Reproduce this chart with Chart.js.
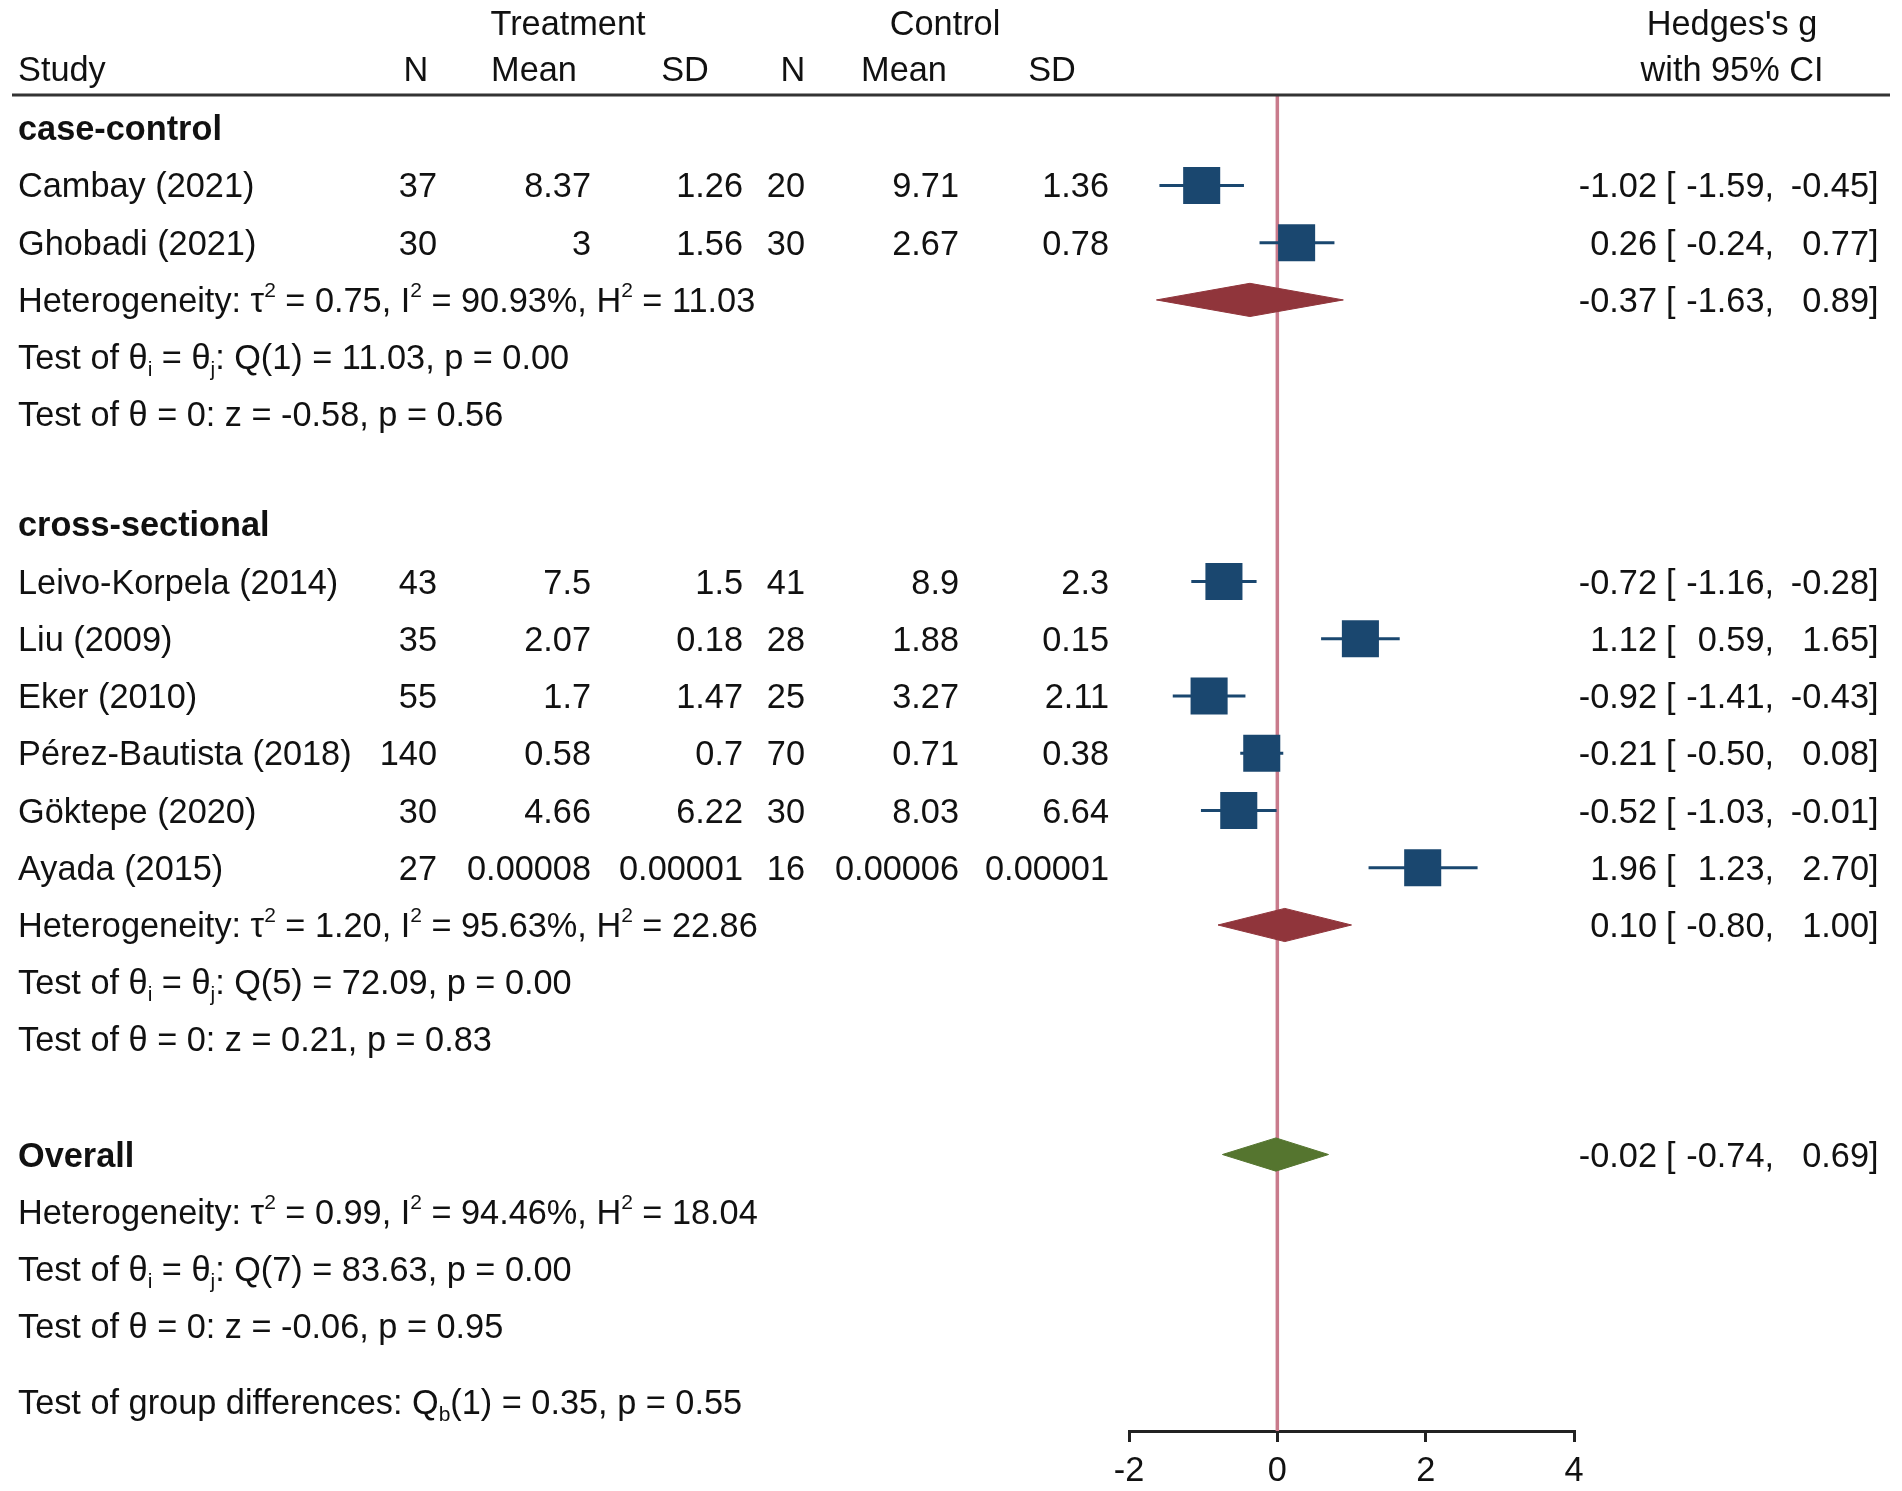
<!DOCTYPE html>
<html>
<head>
<meta charset="utf-8">
<script src="https://cdn.jsdelivr.net/npm/chart.js@4.4.1/dist/chart.umd.min.js"></script>
<style>
html, body { margin: 0; padding: 0; background: #fff; }
canvas { display: block; }
</style>
</head>
<body>
<canvas id="forest" width="1902" height="1491"></canvas>
<script>
// ---- data ----
const groups = ['case-control', 'cross-sectional'];
const studies = ['Cambay (2021)', 'Ghobadi (2021)', 'Leivo-Korpela (2014)', 'Liu (2009)',
                 'Eker (2010)', 'Pérez-Bautista (2018)', 'Göktepe (2020)', 'Ayada (2015)'];
const studyGroup = [0, 0, 1, 1, 1, 1, 1, 1];

const trtN    = [37, 30, 43, 35, 55, 140, 30, 27];
const trtMean = [8.37, 3, 7.5, 2.07, 1.7, 0.58, 4.66, 0.00008];
const trtSD   = [1.26, 1.56, 1.5, 0.18, 1.47, 0.7, 6.22, 0.00001];
const ctlN    = [20, 30, 41, 28, 25, 70, 30, 16];
const ctlMean = [9.71, 2.67, 8.9, 1.88, 3.27, 0.71, 8.03, 0.00006];
const ctlSD   = [1.36, 0.78, 2.3, 0.15, 2.11, 0.38, 6.64, 0.00001];

const g    = [-1.02, 0.26, -0.72, 1.12, -0.92, -0.21, -0.52, 1.96];
const ciLo = [-1.59, -0.24, -1.16, 0.59, -1.41, -0.50, -1.03, 1.23];
const ciHi = [-0.45, 0.77, -0.28, 1.65, -0.43, 0.08, -0.01, 2.70];

// subgroup summaries, then overall as the last entry
const sumG  = [-0.37, 0.10, -0.02];
const sumLo = [-1.63, -0.80, -0.74];
const sumHi = [0.89, 1.00, 0.69];
const tau2  = [0.75, 1.20, 0.99];
const iSq   = [90.93, 95.63, 94.46];
const hSq   = [11.03, 22.86, 18.04];
const qDf   = [1, 5, 7];
const qVal  = [11.03, 72.09, 83.63];
const qP    = [0.00, 0.00, 0.00];
const zVal  = [-0.58, 0.21, -0.06];
const zP    = [0.56, 0.83, 0.95];
const qbDf = 1, qbVal = 0.35, qbP = 0.55;

const xTicks = [-2, 0, 2, 4];

// ---- layout ----
const NAVY = '#1a476f', MAROON = '#90353b', GREEN = '#55752f', REFLINE = '#c97b8c';
const FONT = '"Liberation Sans", Arial, sans-serif';
const NORMAL = '34.3px ' + FONT, BOLD = 'bold 34.3px ' + FONT, SMALL = '21px ' + FONT;
const COL = { study: 18, trN: 437, trMean: 591, trSD: 743, ctN: 805, ctMean: 959, ctSD: 1109,
              est: 1657, br: 1666, lo: 1774, hi: 1869 };
const HEAD = { trN: 416, trMean: 534, trSD: 685, ctN: 793, ctMean: 904, ctSD: 1052,
               trt: 568, ctl: 945, eff: 1732 };
const GAP_GROUP = 1.92, GAP_OVERALL = 2.01, GAP_NOTE = 1.32, DIAMOND_H = 0.29;

// row positions (one unit = one text line)
const rowGroup = [], rowStudy = [], rowSum = [];
let r = 0;
groups.forEach((name, gi) => {
  rowGroup[gi] = r; r++;
  studies.forEach((s, i) => { if (studyGroup[i] === gi) { rowStudy[i] = r; r++; } });
  rowSum[gi] = r;
  r += 2 + (gi < groups.length - 1 ? GAP_GROUP : GAP_OVERALL);
});
rowSum.push(r);              // Overall heading carries the overall diamond
const rowDiff = r + 3 + GAP_NOTE;

const fmt = v => v.toFixed(2);

// ---- datasets ----
const whiskers = studies.map((s, i) => ({
  type: 'line',
  data: [{ x: ciLo[i], y: rowStudy[i] }, { x: ciHi[i], y: rowStudy[i] }],
  borderColor: NAVY, borderWidth: 3, pointRadius: 0, order: 3
}));

const squares = {
  type: 'scatter',
  data: studies.map((s, i) => ({ x: g[i], y: rowStudy[i] })),
  pointStyle: 'rect', pointRadius: 26.2, backgroundColor: NAVY, borderWidth: 0, order: 1
};

const diamonds = sumG.map((v, k) => ({
  type: 'line',
  data: [
    { x: sumLo[k], y: rowSum[k] }, { x: v, y: rowSum[k] - DIAMOND_H },
    { x: sumHi[k], y: rowSum[k] }, { x: v, y: rowSum[k] + DIAMOND_H },
    { x: sumLo[k], y: rowSum[k] }
  ],
  fill: 'shape',
  backgroundColor: k === 2 ? GREEN : MAROON,
  borderColor: k === 2 ? GREEN : MAROON,
  borderWidth: 1, pointRadius: 0, order: 2
}));

function drawRich(ctx, parts, x, y) {
  let cx = x;
  parts.forEach(([t, m]) => {
    ctx.font = m ? SMALL : NORMAL;
    const dy = m === 'sup' ? -15 : (m === 'sub' ? 7 : 0);
    ctx.fillText(t, cx, y + dy);
    cx += ctx.measureText(t).width;
  });
}

const tablePlugin = {
  id: 'table',
  beforeDatasetsDraw(chart) {
    const { ctx, chartArea, scales: { x } } = chart;
    const x0 = x.getPixelForValue(0);
    ctx.save();
    ctx.strokeStyle = REFLINE;
    ctx.lineWidth = 3.5;
    ctx.beginPath();
    ctx.moveTo(x0, chartArea.top);
    ctx.lineTo(x0, chartArea.bottom);
    ctx.stroke();
    ctx.restore();
  },
  afterDraw(chart) {
    const { ctx, chartArea, scales: { y } } = chart;
    const base = row => y.getPixelForValue(row) + 12;
    ctx.save();
    ctx.fillStyle = '#111';
    ctx.textBaseline = 'alphabetic';

    // header
    ctx.strokeStyle = '#333';
    ctx.lineWidth = 3;
    ctx.beginPath();
    ctx.moveTo(12, chartArea.top);
    ctx.lineTo(1890, chartArea.top);
    ctx.stroke();

    ctx.font = NORMAL;
    ctx.textAlign = 'center';
    ctx.fillText('Treatment', HEAD.trt, base(-1.84));
    ctx.fillText('Control', HEAD.ctl, base(-1.84));
    ctx.fillText("Hedges's g", HEAD.eff, base(-1.84));
    ctx.fillText('with 95% CI', HEAD.eff, base(-1.03));
    ['trN', 'trMean', 'trSD', 'ctN', 'ctMean', 'ctSD'].forEach(k => {
      ctx.fillText(k.endsWith('N') ? 'N' : (k.endsWith('SD') ? 'SD' : 'Mean'), HEAD[k], base(-1.03));
    });
    ctx.textAlign = 'left';
    ctx.fillText('Study', COL.study, base(-1.03));

    const ciText = (est, lo, hi, row) => {
      const b = base(row);
      ctx.font = NORMAL;
      ctx.textAlign = 'right';
      ctx.fillText(fmt(est), COL.est, b);
      ctx.fillText(fmt(lo) + ',', COL.lo, b);
      ctx.fillText(fmt(hi), COL.hi, b);
      ctx.textAlign = 'left';
      ctx.fillText('[', COL.br, b);
      ctx.fillText(']', COL.hi, b);
    };

    // studies
    studies.forEach((s, i) => {
      const b = base(rowStudy[i]);
      ctx.font = NORMAL;
      ctx.textAlign = 'left';
      ctx.fillText(s, COL.study, b);
      ctx.textAlign = 'right';
      ctx.fillText(String(trtN[i]), COL.trN, b);
      ctx.fillText(String(trtMean[i]), COL.trMean, b);
      ctx.fillText(String(trtSD[i]), COL.trSD, b);
      ctx.fillText(String(ctlN[i]), COL.ctN, b);
      ctx.fillText(String(ctlMean[i]), COL.ctMean, b);
      ctx.fillText(String(ctlSD[i]), COL.ctSD, b);
      ciText(g[i], ciLo[i], ciHi[i], rowStudy[i]);
    });

    // subgroup + overall summaries
    sumG.forEach((v, k) => {
      let hetRow = rowSum[k];
      ctx.font = BOLD; ctx.textAlign = 'left';
      if (k < groups.length) {
        ctx.fillText(groups[k], COL.study, base(rowGroup[k]));
      } else {
        ctx.fillText('Overall', COL.study, base(rowSum[k]));
        hetRow = rowSum[k] + 1;
      }
      ciText(v, sumLo[k], sumHi[k], rowSum[k]);
      ctx.textAlign = 'left';
      drawRich(ctx, [['Heterogeneity: \u03c4'], ['2', 'sup'], [' = ' + fmt(tau2[k]) + ', I'], ['2', 'sup'],
                     [' = ' + fmt(iSq[k]) + '%, H'], ['2', 'sup'], [' = ' + fmt(hSq[k])]],
               COL.study, base(hetRow));
      drawRich(ctx, [['Test of \u03b8'], ['i', 'sub'], [' = \u03b8'], ['j', 'sub'],
                     [': Q(' + qDf[k] + ') = ' + fmt(qVal[k]) + ', p = ' + fmt(qP[k])]],
               COL.study, base(hetRow + 1));
      drawRich(ctx, [['Test of \u03b8 = 0: z = ' + fmt(zVal[k]) + ', p = ' + fmt(zP[k])]],
               COL.study, base(hetRow + 2));
    });

    drawRich(ctx, [['Test of group differences: Q'], ['b', 'sub'],
                   ['(' + qbDf + ') = ' + fmt(qbVal) + ', p = ' + fmt(qbP)]],
             COL.study, base(rowDiff));
    ctx.restore();
  }
};

new Chart(document.getElementById('forest'), {
  data: { datasets: [squares, ...diamonds, ...whiskers] },
  options: {
    responsive: false,
    animation: false,
    layout: { padding: { left: 1129, right: 328, top: 95, bottom: 1.5 } },
    plugins: { legend: { display: false }, tooltip: { enabled: false } },
    scales: {
      x: {
        type: 'linear', position: 'bottom', min: -2, max: 4,
        afterBuildTicks: axis => { axis.ticks = xTicks.map(v => ({ value: v })); },
        afterFit: axis => { axis.height = 58.5; },
        ticks: { color: '#111', font: { size: 34.3, family: FONT, lineHeight: 0.6 }, padding: 19.7 },
        grid: { drawOnChartArea: false, drawTicks: true, tickLength: 11, color: '#222', lineWidth: 3 },
        border: { color: '#222', width: 3 }
      },
      y: { type: 'linear', display: false, reverse: true, min: -0.58, max: 22.76 }
    }
  },
  plugins: [tablePlugin]
});
</script>
</body>
</html>
